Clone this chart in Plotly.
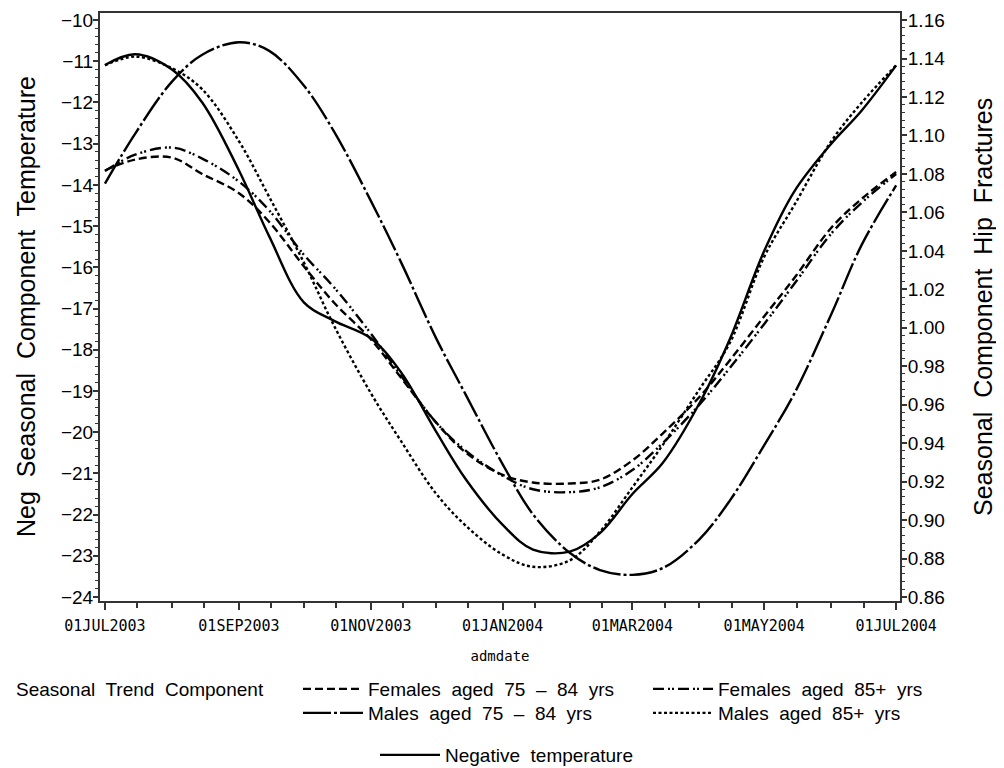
import plotly.graph_objects as go

# ---- data ----
dates = ["2003-07-01", "2003-07-15", "2003-08-01", "2003-08-15", "2003-09-01", "2003-09-15",
         "2003-10-01", "2003-10-15", "2003-11-01", "2003-11-15", "2003-12-01", "2003-12-15",
         "2004-01-01", "2004-01-15", "2004-02-01", "2004-02-15", "2004-03-01", "2004-03-15",
         "2004-04-01", "2004-04-15", "2004-05-01", "2004-05-15", "2004-06-01", "2004-06-15",
         "2004-07-01"]

neg_temperature = [-11.09, -10.83, -11.2, -12.0, -13.65, -15.25, -16.85, -17.3, -17.72, -18.55,
                   -19.97, -21.15, -22.25, -22.85, -22.9, -22.45, -21.5, -20.75, -19.3, -17.75,
                   -15.6, -14.15, -13.0, -12.2, -11.1]

females_75_84 = [1.0818, 1.0875, 1.0885, 1.080, 1.070, 1.055, 1.032, 1.013, 0.994, 0.974,
                 0.951, 0.935, 0.9235, 0.9195, 0.919, 0.921, 0.931, 0.945, 0.964, 0.983,
                 1.006, 1.026, 1.052, 1.067, 1.081]

females_85 = [1.0815, 1.090, 1.0937, 1.088, 1.076, 1.061, 1.038, 1.021, 0.997, 0.975,
              0.951, 0.936, 0.923, 0.916, 0.9145, 0.917, 0.926, 0.940, 0.960, 0.979,
              1.002, 1.023, 1.049, 1.065, 1.080]

males_75_84 = [1.075, 1.101, 1.128, 1.142, 1.1485, 1.144, 1.126, 1.102, 1.066, 1.034,
               0.995, 0.965, 0.929, 0.903, 0.883, 0.874, 0.8715, 0.875, 0.890, 0.910,
               0.939, 0.966, 1.007, 1.043, 1.074]

males_85 = [1.1365, 1.141, 1.135, 1.124, 1.097, 1.068, 1.034, 1.001, 0.966, 0.941,
            0.914, 0.897, 0.882, 0.8757, 0.879, 0.894, 0.917, 0.939, 0.968, 0.992,
            1.037, 1.064, 1.097, 1.117, 1.1365]

x_tick_dates = ["2003-07-01", "2003-09-01", "2003-11-01", "2004-01-01", "2004-03-01",
                "2004-05-01", "2004-07-01"]
x_tick_labels = ["01JUL2003", "01SEP2003", "01NOV2003", "01JAN2004", "01MAR2004",
                 "01MAY2004", "01JUL2004"]
x_minor_dates = ["2003-07-16", "2003-08-01", "2003-08-16", "2003-09-16", "2003-10-01",
                 "2003-10-16", "2003-11-16", "2003-12-01", "2003-12-16", "2004-01-16",
                 "2004-02-01", "2004-02-16", "2004-03-16", "2004-04-01", "2004-04-16",
                 "2004-05-16", "2004-06-01", "2004-06-16"]

FONT = "Liberation Sans, Arial, sans-serif"
MONO = "DejaVu Sans Mono, monospace"
LW = 2.4

# the page body adds an 8px offset, so the figure is sized/positioned to compensate
OFF = 8
W, H = 1004 - OFF, 768 - OFF
# plot-area geometry in figure pixels
L, R, T, B = 100 - OFF, 900 - OFF, 13 - OFF, 601 - OFF
PW, PH = R - L, B - T

fig = go.Figure()

hip_series = [
    ("Females  aged  75  –  84  yrs", females_75_84, "8px,4px", "legend"),
    ("Females  aged  85+  yrs", females_85, "11px,4px,2px,2px,2px,4px", "legend"),
    ("Males  aged  75  –  84  yrs", males_75_84, "28px,3px,3px,3px", "legend3"),
    ("Males  aged  85+  yrs", males_85, "3px,2.5px", "legend3"),
]
for name, vals, dash, lg in hip_series:
    fig.add_trace(go.Scatter(
        x=dates, y=vals, name=name, mode="lines", yaxis="y2",
        line=dict(color="black", width=LW, dash=dash, shape="spline", smoothing=1.0),
        legend=lg,
    ))

fig.add_trace(go.Scatter(
    x=dates, y=neg_temperature, name="Negative  temperature", mode="lines", yaxis="y",
    line=dict(color="black", width=LW, shape="spline", smoothing=1.0),
    legend="legend2",
))

axis_line = "#333333"


def legend_at(x_px, row_center_px, entrywidth=None):
    d = dict(
        orientation="h", xref="container", yref="container",
        x=x_px / W, y=1 - (row_center_px - 27) / H, xanchor="left", yanchor="top",
        itemwidth=60,
        font=dict(family=FONT, size=19, color="black"),
        bgcolor="rgba(0,0,0,0)", borderwidth=0, traceorder="normal",
    )
    if entrywidth:
        d.update(entrywidth=entrywidth, entrywidthmode="pixels")
    return d


fig.update_layout(
    width=W, height=H,
    margin=dict(l=L, r=W - R, t=T, b=H - B, autoexpand=False),
    paper_bgcolor="white", plot_bgcolor="white",
    font=dict(family=FONT, color="black"),
    showlegend=True,
    xaxis=dict(
        type="date", automargin=False,
        range=["2003-06-28 17:00", "2004-07-02 19:00"],
        tickmode="array", tickvals=x_tick_dates, ticktext=x_tick_labels,
        tickfont=dict(family=MONO, size=15, color="black"),
        ticks="outside", ticklen=7, tickwidth=1.5, tickcolor=axis_line,
        ticklabelstandoff=3,
        minor=dict(tickmode="array", tickvals=x_minor_dates, ticks="outside",
                   ticklen=5, tickwidth=1.5, tickcolor=axis_line, showgrid=False),
        showline=True, linecolor=axis_line, linewidth=2, mirror=True,
        showgrid=False, zeroline=False,
        title=dict(text="admdate", font=dict(family=MONO, size=14), standoff=17),
    ),
    yaxis=dict(
        automargin=False,
        range=[-24.097, -9.83],
        tickmode="linear", tick0=-24, dtick=1,
        tickfont=dict(family=FONT, size=19, color="black"),
        ticks="outside", ticklen=5, tickwidth=1.5, tickcolor=axis_line,
        ticklabelstandoff=-4,
        minor=dict(dtick=0.2, ticks="outside", ticklen=3, tickwidth=1, tickcolor=axis_line,
                   showgrid=False),
        showline=True, linecolor=axis_line, linewidth=2,
        showgrid=False, zeroline=False,
    ),
    yaxis2=dict(
        automargin=False,
        overlaying="y", side="right",
        range=[0.8579, 1.1637],
        tickmode="linear", tick0=0.86, dtick=0.02, tickformat=".2f",
        tickfont=dict(family=FONT, size=19, color="black"),
        ticks="outside", ticklen=5, tickwidth=1.5, tickcolor=axis_line,
        ticklabelstandoff=-3,
        minor=dict(dtick=0.004, ticks="outside", ticklen=3, tickwidth=1, tickcolor=axis_line,
                   showgrid=False),
        showline=True, linecolor=axis_line, linewidth=2,
        showgrid=False, zeroline=False,
    ),
    legend=legend_at(290, 689, 275),
    legend3=legend_at(290, 713, 275),
    legend2=legend_at(367, 755),
    annotations=[
        dict(text="Seasonal  Trend  Component", xref="paper", yref="paper",
             x=(17 - OFF - 3 - L) / PW, y=-(689 - 601) / PH, xanchor="left", yanchor="middle",
             showarrow=False, font=dict(family=FONT, size=19, color="black")),
        dict(text="Neg  Seasonal  Component  Temperature", xref="paper", yref="paper",
             x=(26 - OFF - L) / PW, y=0.5, xanchor="center", yanchor="middle", textangle=-90,
             showarrow=False, font=dict(family=FONT, size=25, color="black")),
        dict(text="Seasonal  Component  Hip  Fractures", xref="paper", yref="paper",
             x=(983 - OFF - L) / PW, y=0.5, xanchor="center", yanchor="middle", textangle=-90,
             showarrow=False, font=dict(family=FONT, size=25, color="black")),
    ],
)

fig.write_html("out.html")
